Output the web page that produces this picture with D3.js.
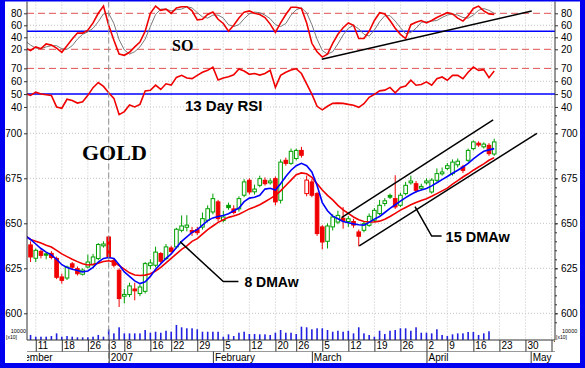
<!DOCTYPE html>
<html>
<head>
<meta charset="utf-8">
<script src="https://cdn.jsdelivr.net/npm/d3@7"></script>
<style>
  body { margin: 0; background: #fff; }
  svg { display: block; }
</style>
</head>
<body>
<script>
// Gold daily chart, Dec 2006 - Apr 2007, with SO, 13 day RSI, 8/15 DMAw and volume

const W = 585, H = 368;

// trading calendar (weekdays minus exchange holidays)
const calStart = new Date(2006, 11, 1), calEnd = new Date(2007, 4, 8);
const holidays = ["2006-12-25", "2007-01-01", "2007-01-02", "2007-01-15", "2007-02-19", "2007-04-06"];
const seriesStart = "2006-12-07"; // first entry of every series below

// candles
const open = [null,638,630.6,634.4,633,633.3,630.5,620.2,619.6,627.5,
  624.8,621.7,625.7,627,630.4,637.5,642.4,629.4,623.9,609.5,
  610.4,613.5,611,612.2,626.5,626.7,633.2,630.4,636.3,636.9,
  646.1,647.8,646,646.5,647.9,651.7,656.3,661.9,651.5,660,
  658,658,665.6,673.9,667.5,671.1,673.9,672.5,674.8,662.8,
  685,683.3,686,690.5,666.5,673,666.5,648,640,648,
  650.7,652.8,651,651,645.2,646.1,648.9,651.7,655.4,661,
  665.5,663.7,660,666.5,672.5,672,669.5,672.5,667.4,673.9,
  677.5,680.5,677.6,682.5,681.3,685,691.5,694.5,692.5,693.3,
  688.5];
const high = [null,640,636,635.5,634,634.5,631.5,622,626.5,628.5,
  626,625,632.6,633,639,640,643,630.5,625,613.5,
  617,617,616,628.5,630,637,634,638.5,637.5,647.5,
  654.4,654.5,648,648,656,660,666.5,663,657,661.5,
  660,665,674.5,675,671.5,676.5,675.5,675,676,685.5,
  686.5,691.5,691.5,692.5,676.5,674.5,667.5,649,650,655,
  657,659,654,652.5,646.5,651,655.5,658.5,663,664,
  666.5,676.7,667,673,676.5,673.5,672,675,675,680.5,
  681,683.5,685.5,686,682.5,691.5,696,695.5,695,694.5,
  697];
const low = [null,628.5,628.5,630.5,630,630,619,616.5,618.5,624.5,
  621,621,625,626.5,629.5,636.5,630,625.5,603.5,605.5,
  609,607.2,609.5,611,624.5,625.5,627.5,629.5,633,636,
  645,645.5,643,643.5,646.5,650.5,655,651,650.5,657.5,
  655,656.5,664.5,666,666,670,671,671.5,660,661,
  682,682.5,685,686.5,665,664.5,643,635.5,636,646,
  649.5,647,648,647.5,637.2,645,648,650.5,654.5,659.5,
  663.5,658,659,665.5,671.5,667,668.5,671.5,666.5,673,
  676.5,679.5,676.5,681,678,684,690.5,692.5,691.5,687.5,
  687.5];
const close = [null,631.3,635,632.2,632.3,631,620,618.3,625.7,625.6,
  622,624,628.5,631.3,638.2,638.5,631.3,626.7,608.2,610.5,
  615.2,612.5,614.6,627.6,628,634,628.9,636.9,634.4,646.7,
  648.5,649,645,644.8,652.6,658.1,663.7,652.6,653.5,658.7,
  656,663.7,673,667.4,669,674.8,672,673.5,661.9,684,
  683.3,690,690.5,687.8,674,665.6,644.3,639.6,648.5,653.5,
  654.4,651.5,652.5,649,642.8,649.8,653.9,657.2,660,662.5,
  664.5,659.1,665.6,671.1,673.5,668.3,670.5,673.5,674,677.6,
  678.5,682,684,684.5,679.4,690.5,695.2,693.5,694,688.7,
  695.2];
const volume = [null,5600,3700,3700,3700,4400,7400,3700,4400,3700,
  3000,3000,3000,3700,5600,3700,11900,7400,14100,7400,
  7400,7400,7400,11100,8100,9200,8100,10300,9200,16700,
  14100,13000,13000,11900,9200,9200,9200,9200,3700,6300,
  4400,8100,9200,6700,6700,6300,6300,5600,8100,11100,
  8100,8100,6700,14800,14100,11900,13000,13000,11100,9200,
  10300,9200,10300,7400,14100,7400,5600,3700,10300,6700,
  10300,11100,13000,13000,10300,14100,8100,8100,7400,11900,
  5600,4400,6300,7400,7400,8900,8900,5600,7400,9700,
  null];

// moving averages
const dma8 = [643,641,638.5,636,634,632.5,630,627,625.5,624.5,
  623.8,623,623.5,625.5,628.5,630.5,631,630.5,627,623,
  620.5,618,616.5,617.5,620.5,624.5,627.5,630.5,633,636.5,
  640,642.5,645,646.5,649,651.5,653,653.8,654.3,655.3,
  657,658.5,662,664,664.5,665.6,669,669.5,668.5,672,
  676,679.5,682,683.3,682,678.5,671,661.5,657,654,
  652.5,651,650.3,649.7,649.2,649,650.5,652.3,653.8,656,
  658.3,660.3,662.3,664.3,666,667.5,668.5,669.3,670.8,672.5,
  674.3,676,677.8,679.5,681.3,683.3,685.8,688,690,690.8,
  691.5];
const dma15 = [643,641,640,639,637.8,636.8,635,633,631.5,630,
  628.7,627.5,626.8,627.2,627.8,628.8,629.2,628.5,626.5,624.5,
  622.5,621.3,621,621.2,622,623.5,625.5,628,630.5,633,
  635.5,637.5,640,641.5,644,646.5,648.5,650.5,652,653.3,
  654,655,656.5,658,659,660.3,662,663.7,665.5,668,
  671,674,677,678,677.5,675.5,672,668.5,665.5,663,
  660,657.5,655.5,653.5,652,651,650.7,650.7,651.2,652.3,
  653.8,655.5,657.3,658.8,660.3,661.5,662.7,663.7,665,666.5,
  668,669.5,671.8,673.7,675.7,677.5,679.5,681.3,683,685,
  686.5];

// stochastic oscillator (%K red, %D grey) and 13 day RSI
const soK = [22,18,24,21,29,27,22,15,26,37,
  47,47,52,64,80,92,60,35,12,10,
  15,24,32,50,80,92,85,87,80,89,
  91,91,84,69,70,78,82,70,63,50,
  60,72,82,84,80,78,73,62,48,64,
  78,90,90,88,64,30,16,7,12,30,
  45,56,64,60,38,38,50,68,81,79,
  68,55,45,38,61,65,68,64,68,73,
  77,81,79,72,67,76,88,92,84,79,
  78];
const soD = [34,27,22,21,24,26,26,21,20,26,
  37,45,49,55,66,79,80,63,36,19,
  12,16,24,37,58,78,87,87,84,86,
  87,91,89,81,74,72,77,77,72,61,
  58,61,71,79,82,81,77,71,61,58,
  63,77,86,89,81,61,37,18,12,16,
  29,44,55,60,54,45,42,52,66,76,
  76,67,56,46,48,55,65,66,67,68,
  73,77,79,77,73,72,77,85,88,85,
  80];
const rsi = [50.5,49,51.5,50,49.5,49,40,39,46,45,
  43,44,49,55,59,56,51,46.7,34,36.4,
  41.5,40,42,52.5,53,57,53.6,58,57,63,
  64.6,62.5,62,64.6,67,68.5,71,61,62.5,63.5,
  65,69.5,68,65.4,66,64.8,66,68.5,55.2,64.6,
  67,68.8,69.7,66,58,50,40.5,37.7,40.5,42.8,
  43,42.8,42,41.3,39.7,42.5,47.5,49.8,52.5,53.1,
  55.2,51,55.2,56.2,60.8,56.9,57.5,59.5,56.9,62,
  63.3,60.8,64.6,64.6,62,67,71,68.5,69,62.8,
  67.9];

// axis ticks
const soTicks = [20, 40, 60, 80];
const rsiTicks = [40, 50, 60, 70];
const priceTicks = [600, 625, 650, 675, 700];

// drawn lines, in [day index, value]
const soTrend = [[60.9, 3.3], [101.2, 83.8]];
const channelUp = [[64.7, 653.1], [93.8, 707.4]];
const channelDown = [[68.1, 637.4], [102.2, 700]];
const note8 = [[33.7, 639.8], [42.0, 617.6], [44.9, 617.6]];
const note15 = [[78.8, 659.2], [82.0, 642.9], [83.9, 642.9]];

// ---------------------------------------------------------------
const fmt = d3.timeFormat("%Y-%m-%d");
const days = d3.timeDay.range(calStart, calEnd)
  .filter(d => d.getDay() % 6 !== 0 && !holidays.includes(fmt(d)));
const s0 = days.findIndex(d => fmt(d) === seriesStart);

const left = 27, right = 555;
const x = d3.scaleLinear().domain([0, 105]).range([4.5, 551.5]);
const ySO = d3.scaleLinear().domain([0, 100]).range([61.3, 1.3]);
const yRSI = d3.scaleLinear().domain([30, 78]).range([119.8, 58.1]);
const yP = d3.scaleLinear().domain([600, 700]).range([313.3, 133.3]);
const yV = d3.scaleLinear().domain([0, 10000]).range([340, 331]);

const sans = "'Liberation Sans', Arial, sans-serif";
const serif = "'Liberation Serif', 'Times New Roman', serif";
const green = "#00a000", red = "#f00000", blue = "#0000ff";

const svg = d3.select("body").append("svg")
  .attr("width", W).attr("height", H);

// blue frame
svg.append("rect").attr("width", W).attr("height", H).attr("fill", "#0000f0");
svg.append("rect").attr("x", 5).attr("y", 1.5).attr("width", 575).attr("height", 361.5).attr("fill", "#fff");

const defs = svg.append("defs");
defs.append("clipPath").attr("id", "plot")
  .append("rect").attr("x", left).attr("y", 1.5).attr("width", right - left).attr("height", 338.5);
defs.append("clipPath").attr("id", "rows")
  .append("rect").attr("x", left).attr("y", 340).attr("width", right - left).attr("height", 23);

const plot = svg.append("g").attr("clip-path", "url(#plot)");

// week start / month start indices
const weekIdx = d3.range(days.length).filter(i => i === 0 ||
  +d3.timeMonday.floor(days[i]) !== +d3.timeMonday.floor(days[i - 1]));
const monthIdx = d3.range(days.length).filter(i => i === 0 ||
  days[i].getMonth() !== days[i - 1].getMonth());
const yearIdx = monthIdx.filter(i => days[i].getMonth() === 0);

// grid
plot.selectAll(".vgrid").data(weekIdx).join("line")
  .attr("x1", d => x(d)).attr("x2", d => x(d)).attr("y1", 1.5).attr("y2", 340)
  .attr("stroke", "#c4c4c4").attr("stroke-dasharray", "1,2");
const hgrid = [...[40, 60].map(v => ySO(v)), ...[40, 60].map(v => yRSI(v)), ...priceTicks.map(v => yP(v))];
plot.selectAll(".hgrid").data(hgrid).join("line")
  .attr("x1", left).attr("x2", right).attr("y1", d => d).attr("y2", d => d)
  .attr("stroke", "#c4c4c4").attr("stroke-dasharray", "1,2");

// reference lines
const dashed = [ySO(80), ySO(20), yRSI(70)];
plot.selectAll(".ref").data(dashed).join("line")
  .attr("x1", left).attr("x2", right).attr("y1", d => d).attr("y2", d => d)
  .attr("stroke", "#e05050").attr("stroke-dasharray", "7,4");
plot.selectAll(".mid").data([ySO(50), yRSI(50)]).join("line")
  .attr("x1", left).attr("x2", right).attr("y1", d => d).attr("y2", d => d)
  .attr("stroke", blue).attr("stroke-width", 1.5);

// year separator
svg.selectAll(".year").data(yearIdx).join("line")
  .attr("x1", d => x(d)).attr("x2", d => x(d)).attr("y1", 1.5).attr("y2", 363)
  .attr("stroke", "#909090").attr("stroke-dasharray", "6,3");

// SO lines
const lineOf = (y) => d3.line().defined(d => d != null).x((d, k) => x(s0 + k)).y(d => y(d));
plot.append("path").datum(soD).attr("d", lineOf(ySO))
  .attr("fill", "none").attr("stroke", "#7a7a7a").attr("stroke-width", 1);
plot.append("path").datum(soK).attr("d", lineOf(ySO))
  .attr("fill", "none").attr("stroke", red).attr("stroke-width", 1.6);

// RSI
plot.append("path").datum(rsi).attr("d", lineOf(yRSI))
  .attr("fill", "none").attr("stroke", red).attr("stroke-width", 1.6);

// volume
plot.selectAll(".vol").data(volume.map((v, k) => ({ i: s0 + k, v })).filter(d => d.v != null))
  .join("rect")
  .attr("x", d => x(d.i) - 0.8).attr("width", 1.6)
  .attr("y", d => yV(d.v)).attr("height", d => yV(0) - yV(d.v))
  .attr("fill", "#2020e0");

// candles
const candles = open.map((o, k) => ({
  i: s0 + k, o, h: high[k], l: low[k], c: close[k], pc: k > 0 ? close[k - 1] : null
})).filter(d => d.o != null);
candles.forEach(d => {
  d.col = (d.pc == null ? d.c >= d.o : d.c >= d.pc) ? green : red;
});
plot.selectAll(".wick").data(candles).join("line")
  .attr("x1", d => x(d.i)).attr("x2", d => x(d.i))
  .attr("y1", d => yP(d.h)).attr("y2", d => yP(d.l))
  .attr("stroke", d => d.col).attr("stroke-width", 1);
plot.selectAll(".body").data(candles).join("rect")
  .attr("x", d => x(d.i) - 1.8).attr("width", 3.6)
  .attr("y", d => yP(Math.max(d.o, d.c)))
  .attr("height", d => Math.max(1, Math.abs(yP(d.o) - yP(d.c))))
  .attr("fill", d => d.c < d.o ? d.col : "#fff")
  .attr("stroke", d => d.col).attr("stroke-width", 1);

// moving averages
plot.append("path").datum(dma15).attr("d", lineOf(yP))
  .attr("fill", "none").attr("stroke", red).attr("stroke-width", 1.6);
plot.append("path").datum(dma8).attr("d", lineOf(yP))
  .attr("fill", "none").attr("stroke", blue).attr("stroke-width", 1.6);

// trend lines and pointers
const seg = (y) => d3.line().x(d => x(d[0])).y(d => y(d[1]));
plot.append("path").attr("d", seg(ySO)(soTrend)).attr("stroke", "#000").attr("stroke-width", 1.5).attr("fill", "none");
[channelUp, channelDown, note8, note15].forEach(p => {
  plot.append("path").attr("d", seg(yP)(p)).attr("stroke", "#000").attr("stroke-width", 1.5).attr("fill", "none");
});

// axis frame lines
svg.append("line").attr("x1", left).attr("x2", left).attr("y1", 1.5).attr("y2", 340).attr("stroke", "#333");
svg.append("line").attr("x1", right).attr("x2", right).attr("y1", 1.5).attr("y2", 340).attr("stroke", "#333");
svg.append("line").attr("x1", left).attr("x2", right).attr("y1", 340).attr("y2", 340).attr("stroke", "#333");
svg.append("line").attr("x1", left).attr("x2", right).attr("y1", 351.5).attr("y2", 351.5).attr("stroke", "#999");

// y axes on both sides
function yAxes(scale, ticks) {
  const l = svg.append("g").attr("transform", `translate(${left},0)`)
    .call(d3.axisLeft(scale).tickValues(ticks).tickSize(3).tickPadding(2));
  const r = svg.append("g").attr("transform", `translate(${right},0)`)
    .call(d3.axisRight(scale).tickValues(ticks).tickSize(3).tickPadding(3));
  [l, r].forEach(g => {
    g.select(".domain").remove();
    g.attr("font-family", sans).attr("font-size", 10);
    g.selectAll("line").attr("stroke", "#333");
  });
}
yAxes(ySO, soTicks);
yAxes(yRSI, rsiTicks);
yAxes(yP, priceTicks);

// minor price ticks on the right
svg.append("g").attr("transform", `translate(${right},0)`)
  .call(d3.axisRight(yP).tickValues(d3.range(595, 711, 5)).tickSize(2).tickFormat(""))
  .call(g => g.select(".domain").remove())
  .selectAll("line").attr("stroke", "#333");

// volume scale label
svg.append("text").attr("x", 26).attr("y", 333).attr("text-anchor", "end")
  .attr("font-family", sans).attr("font-size", 5.5).text("10000");
svg.append("text").attr("x", 6).attr("y", 338.5)
  .attr("font-family", sans).attr("font-size", 5).text("[x10]");
svg.append("text").attr("x", 562).attr("y", 333)
  .attr("font-family", sans).attr("font-size", 5.5).text("10000");
svg.append("text").attr("x", 556).attr("y", 338.5)
  .attr("font-family", sans).attr("font-size", 5).text("[x10]");

// date rows
const rows = svg.append("g").attr("clip-path", "url(#rows)");
const dayRow = rows.append("g").attr("transform", "translate(0,340)")
  .call(d3.axisBottom(x).tickValues(weekIdx).tickFormat(i => days[i].getDate()).tickSize(11.5));
const monthName = d3.timeFormat("%B"), yearName = d3.timeFormat("%Y");
const monthRow = rows.append("g").attr("transform", "translate(0,351.5)")
  .call(d3.axisBottom(x).tickValues(monthIdx)
    .tickFormat(i => days[i].getMonth() === 0 ? yearName(days[i]) : monthName(days[i])).tickSize(12));
[dayRow, monthRow].forEach(g => {
  g.select(".domain").remove();
  g.attr("font-family", sans).attr("font-size", 10);
  g.selectAll("line").attr("stroke", "#333");
  g.selectAll("text").attr("x", 1.5).attr("y", 2).attr("text-anchor", "start");
});

// titles and notes
svg.append("text").attr("x", 82).attr("y", 160)
  .attr("font-family", serif).attr("font-weight", "bold").attr("font-size", 22).text("GOLD");
svg.append("text").attr("x", 172).attr("y", 50.5)
  .attr("font-family", serif).attr("font-weight", "bold").attr("font-size", 16).text("SO");
svg.append("text").attr("x", 185).attr("y", 110.5)
  .attr("font-family", sans).attr("font-weight", "bold").attr("font-size", 15).text("13 Day RSI");
svg.append("text").attr("x", x(note8[2][0]) + 6).attr("y", yP(note8[2][1]) + 5.5)
  .attr("font-family", sans).attr("font-weight", "bold").attr("font-size", 14).text("8 DMAw");
svg.append("text").attr("x", x(note15[2][0]) + 4).attr("y", yP(note15[2][1]) + 5.5)
  .attr("font-family", sans).attr("font-weight", "bold").attr("font-size", 14.5).text("15 DMAw");
</script>
</body>
</html>
